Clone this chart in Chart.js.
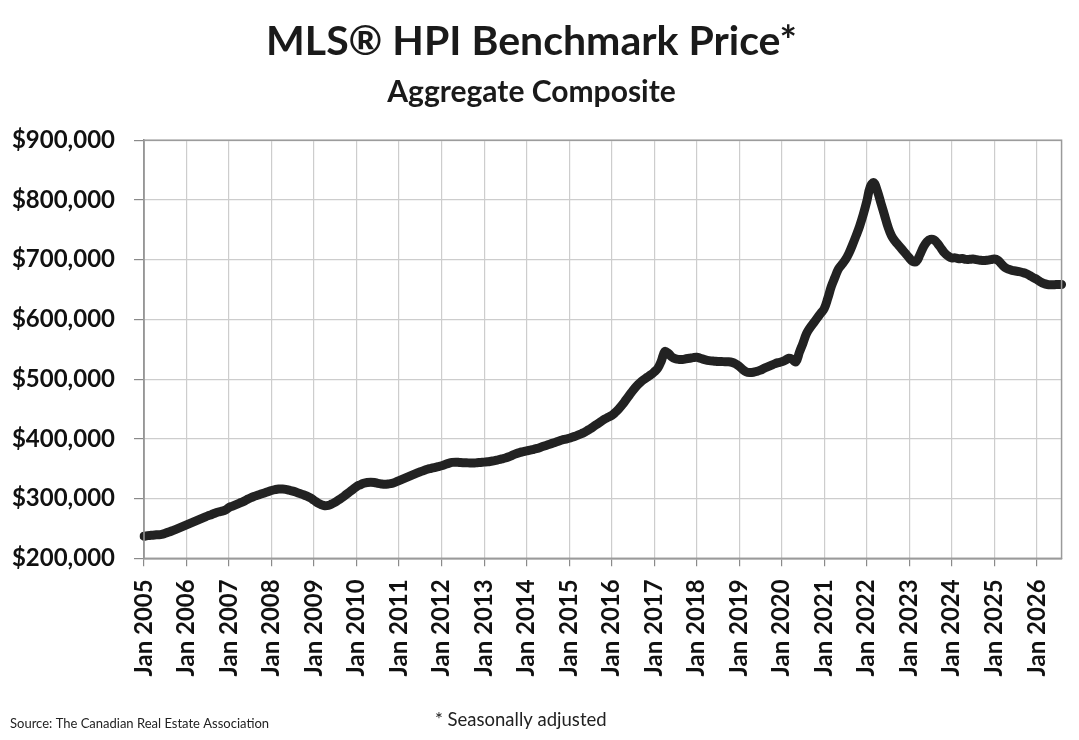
<!DOCTYPE html>
<html>
<head>
<meta charset="utf-8">
<title>MLS® HPI Benchmark Price</title>
<script src="https://cdn.jsdelivr.net/npm/chart.js@4.4.1/dist/chart.umd.min.js"></script>
<style>
  html, body { margin: 0; padding: 0; background: #fff; }
  #wrap { width: 1079px; height: 740px; }
</style>
</head>
<body>
<div id="wrap"><canvas id="hpiChart" width="1079" height="740"></canvas></div>
<script>
// Années et mois de l'axe (une étiquette par mois, seul janvier est affiché)
const years = [2005, 2006, 2007, 2008, 2009, 2010, 2011, 2012, 2013, 2014, 2015,
  2016, 2017, 2018, 2019, 2020, 2021, 2022, 2023, 2024, 2025, 2026]
const monthNames = ["Jan", "Feb", "Mar", "Apr", "May", "Jun", "Jul", "Aug", "Sep", "Oct", "Nov", "Dec"]
const lastMonthIndex2026 = 7 // la série s'arrête en août 2026

// Prix de référence mensuel (en milliers de $)
const price2005 = [237, 238, 238.5, 239, 239.5, 240, 242, 244, 246, 248.5, 251, 253.5]
const price2006 = [256, 258.5, 261, 263.5, 266, 268.5, 271, 273, 275.5, 277.5, 279, 281]
const price2007 = [285, 287.5, 290, 292.5, 295, 298, 301, 303.5, 305.5, 307.5, 309.5, 311.5]
const price2008 = [313.5, 315, 316, 316, 315.5, 314, 312.5, 310.5, 308.5, 306.5, 304, 301]
const price2009 = [297, 293, 290, 288, 288.5, 291, 294, 298, 302, 306.5, 311, 315.5]
const price2010 = [320, 323, 325.5, 327, 327.5, 327, 325.5, 324.5, 324, 324.5, 325.5, 327.5]
const price2011 = [330, 332.5, 335, 337.5, 340, 342.5, 345, 347, 349, 350.5, 352, 353.5]
const price2012 = [355, 357, 359, 360.5, 361, 360.5, 360, 360, 359.5, 359.5, 360, 360.5]
const price2013 = [361, 361.5, 362.5, 363.5, 365, 366.5, 368, 370, 372.5, 375, 377, 378.5]
const price2014 = [380, 381, 382.5, 384, 386, 388, 390, 392, 394, 396, 398, 399.5]
const price2015 = [401, 403, 405, 407.5, 410, 413.5, 417, 421, 425, 429, 433, 436]
const price2016 = [439, 444, 450, 457, 465, 473, 481, 488, 494, 499, 503, 507]
const price2017 = [512, 518, 530, 546, 543, 537, 534, 533, 533, 534, 535, 536]
const price2018 = [536.5, 535, 533, 531.5, 530.5, 530, 529.5, 529.5, 529, 529, 528, 525.5]
const price2019 = [521.5, 516, 512, 511, 511.5, 513, 515, 518, 520.5, 523, 525.5, 527.5]
const price2020 = [529, 531.5, 535, 533, 529, 545, 560, 576, 586, 594, 602, 610]
const price2021 = [618, 635, 655, 670, 684, 692, 700, 711, 725, 740, 756, 775]
const price2022 = [797, 822, 829, 815, 795, 775, 755, 740, 731, 724, 717, 710]
const price2023 = [703, 697, 697, 708, 721, 730, 734, 733, 727, 719, 711, 706]
const price2024 = [703, 703, 701.5, 702, 700.5, 700.5, 701, 700, 699, 698.5, 699, 700]
const price2025 = [701, 699, 693, 687, 684, 682, 681, 680, 678.5, 676.5, 673.5, 670]
const price2026 = [667, 663, 660, 658.5, 658, 658, 658.5, 658.5]

const yTicks = { min: 200000, max: 900000, step: 100000 }

const monthLabels = []
years.forEach((year) => {
  monthNames.forEach((m, i) => {
    if (year === 2026 && i > lastMonthIndex2026) return
    monthLabels.push(`${m} ${year}`)
  })
})

const benchmarkPrice = [
  price2005, price2006, price2007, price2008, price2009, price2010, price2011,
  price2012, price2013, price2014, price2015, price2016, price2017, price2018,
  price2019, price2020, price2021, price2022, price2023, price2024, price2025, price2026,
].flat().map((v) => v * 1000)

// Cadre gris autour de la zone du graphique + notes de bas de page
const framePlugin = {
  id: "frameAndNotes",
  afterDatasetsDraw(chart) {
    const { ctx, chartArea } = chart
    ctx.save()
    ctx.strokeStyle = "#9a9a9a"
    ctx.lineWidth = 1.5
    ctx.strokeRect(chartArea.left, chartArea.top, chartArea.right - chartArea.left, chartArea.bottom - chartArea.top)
    ctx.restore()
  },
  afterDraw(chart) {
    const { ctx } = chart
    ctx.save()
    ctx.fillStyle = "#222"
    ctx.textBaseline = "middle"
    ctx.font = "13px Lato"
    ctx.fillText("Source: The Canadian Real Estate Association", 10, 724)
    ctx.font = "18.5px Lato"
    ctx.fillText("* Seasonally adjusted", 435, 720)
    ctx.restore()
  },
}

Chart.defaults.font.family = "Lato"
Chart.defaults.color = "#111"

const ctx = document.getElementById("hpiChart").getContext("2d")
new Chart(ctx, {
  type: "line",
  data: {
    labels: monthLabels,
    datasets: [
      {
        label: "MLS® HPI Benchmark Price",
        data: benchmarkPrice,
        borderColor: "#222222",
        borderWidth: 9,
        borderCapStyle: "round",
        borderJoinStyle: "round",
        pointRadius: 0,
        tension: 0.4,
        fill: false,
      },
    ],
  },
  options: {
    responsive: false,
    animation: false,
    layout: { padding: { left: 0, right: 16, top: 0, bottom: 40 } },
    plugins: {
      legend: { display: false },
      tooltip: { enabled: false },
      title: {
        display: true,
        text: "MLS® HPI Benchmark Price*",
        color: "#1a1a1a",
        font: { size: 41, weight: "bold", lineHeight: 1.2 },
        padding: { top: 17, bottom: 8 },
      },
      subtitle: {
        display: true,
        text: "Aggregate Composite",
        color: "#1a1a1a",
        font: { size: 30, weight: "bold", lineHeight: 1.2 },
        padding: { top: 0, bottom: 30 },
      },
    },
    scales: {
      x: {
        type: "category",
        offset: false,
        afterFit: (scale) => { scale.height = 141.7 },
        grid: {
          color: "#cdcdcd",
          lineWidth: 1.2,
          tickLength: 8,
          tickColor: "#8a8a8a",
        },
        border: { color: "#8a8a8a", width: 1.5 },
        ticks: {
          autoSkip: false,
          minRotation: 90,
          maxRotation: 90,
          padding: 13,
          color: "#111",
          font: { size: 24, weight: "bold" },
          callback: function (value, index) {
            return index % 12 === 0 ? this.getLabelForValue(value) : null
          },
        },
      },
      y: {
        min: yTicks.min,
        max: yTicks.max,
        afterFit: (scale) => { scale.width = 144 },
        grid: {
          color: "#cdcdcd",
          lineWidth: 1.2,
          tickLength: 10,
          tickColor: "#8a8a8a",
        },
        border: { color: "#8a8a8a", width: 1.5 },
        ticks: {
          stepSize: yTicks.step,
          padding: 19,
          color: "#111",
          font: { size: 24, weight: "bold" },
          callback: (value) => "$" + value.toLocaleString("en-US"),
        },
      },
    },
  },
  plugins: [framePlugin],
})
</script>
</body>
</html>
